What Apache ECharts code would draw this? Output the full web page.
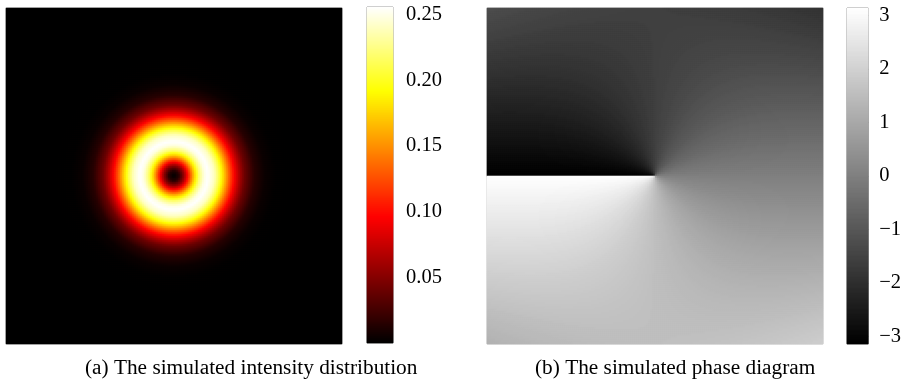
<!DOCTYPE html>
<html>
<head>
<meta charset="utf-8">
<script src="https://cdn.jsdelivr.net/npm/echarts@6/dist/echarts.min.js"></script>
<style>
  html, body { margin: 0; padding: 0; background: #fff; }
  #chart { width: 904px; height: 381px; }
</style>
</head>
<body>
<div id="chart"></div>
<script>
/* Data */
// donut intensity against radius (radius as a fraction of half the image width)
const ringRadius = [0, 0.03, 0.06, 0.09, 0.12, 0.15, 0.18, 0.203, 0.24, 0.27, 0.30, 0.33, 0.36, 0.39, 0.42, 0.48, 0.54, 0.60, 0.72, 1.5];
const ringIntensity = [0, 0.0147, 0.0555, 0.1125, 0.1710, 0.2195, 0.2487, 0.2558, 0.2406, 0.2101, 0.1710, 0.1306, 0.0945, 0.0650, 0.0412, 0.0147, 0.0042, 0.0010, 0, 0];
const intensityRange = [0, 0.2558];
const intensityTicks = [0.05, 0.10, 0.15, 0.20, 0.25];

// phase against angle round the centre (degrees, clockwise from the right)
const phaseAngle = [-180, -135, -90, -45, 0, 45, 90, 135, 180];
const phaseValue = [-3.1416, -2.3562, -1.5708, -0.7854, 0, 0.7854, 1.5708, 2.3562, 3.1416];
// extra phase seen at the four corners (top-left, top-right / bottom-left, bottom-right)
const phaseCornerShift = [[1.13, -1.13], [-1.13, 1.13]];
const phaseRange = [-3.1416, 3.1416];
const phaseTicks = [-3, -2, -1, 0, 1, 2, 3];

const captions = ['(a) The simulated intensity distribution', '(b) The simulated phase diagram'];

// MATLAB "hot" and "gray"
const hotColors = ['#000000', '#550000', '#aa0000', '#ff0000', '#ff5500', '#ffaa00', '#ffff00', '#ffff80', '#ffffff'];
const grayColors = ['#000000', '#ffffff'];

const N = 168;      // cells per side of each picture
const BAR = 336;    // steps in each colour bar

function lookup(xs, ys, x) {
    if (x <= xs[0]) return ys[0];
    for (let k = 1; k < xs.length; k++) {
        if (x <= xs[k]) {
            const t = (x - xs[k - 1]) / (xs[k] - xs[k - 1]);
            return ys[k - 1] + t * (ys[k] - ys[k - 1]);
        }
    }
    return ys[ys.length - 1];
}

// bilinear blend of the corner table, s and t in 0..1
function corners(tab, s, t) {
    const top = tab[0][0] * (1 - s) + tab[0][1] * s;
    const bot = tab[1][0] * (1 - s) + tab[1][1] * s;
    return top * (1 - t) + bot * t;
}

const cells = [];
for (let i = 0; i < N; i++) cells.push(i);
const barRows = [];
for (let i = 0; i < BAR; i++) barRows.push(i);

const intensityData = [];
const phaseData = [];
for (let j = 0; j < N; j++) {
    for (let i = 0; i < N; i++) {
        const s = (i + 0.5) / N, t = (j + 0.5) / N;
        const u = s * 2 - 1, v = t * 2 - 1;
        const rho = Math.sqrt(u * u + v * v);
        intensityData.push([i, j, lookup(ringRadius, ringIntensity, rho)]);
        const ang = Math.atan2(v, u) * 180 / Math.PI;
        phaseData.push([i, j, lookup(phaseAngle, phaseValue, ang) + corners(phaseCornerShift, s, t)]);
    }
}

function barData(range) {
    const out = [];
    for (let k = 0; k < BAR; k++) {
        out.push([0, k, range[0] + (k + 0.5) / BAR * (range[1] - range[0])]);
    }
    return out;
}

const serif = "'Liberation Serif', 'Times New Roman', serif";
const labelStyle = { fontFamily: serif, fontSize: 20.5, color: '#000' };
const captionStyle = { fontFamily: serif, fontSize: 21.3, fontWeight: 'normal', color: '#000' };

function hiddenCat(grid, data, inverse) {
    return { gridIndex: grid, type: 'category', data: data, show: false, inverse: !!inverse };
}

function barAxis(grid, range, ticks, margin, fmt) {
    return {
        gridIndex: grid,
        type: 'value',
        position: 'right',
        min: range[0],
        max: range[1],
        axisLine: { show: false },
        splitLine: { show: false },
        axisTick: { show: true, inside: true, length: 3, customValues: ticks, lineStyle: { color: '#555', width: 1 } },
        axisLabel: Object.assign({ margin: margin, customValues: ticks, formatter: fmt }, labelStyle)
    };
}

let chartDom = document.getElementById('chart');
let myChart = echarts.init(chartDom, null, { renderer: 'canvas' });

let option = {
    animation: false,
    backgroundColor: '#fff',
    title: [
        { text: captions[0], left: 85, top: 358, padding: 0, textStyle: captionStyle },
        { text: captions[1], left: 535, top: 358, padding: 0, textStyle: captionStyle }
    ],
    grid: [
        { left: 6, top: 8, width: 336, height: 336, show: true, borderColor: '#c8c8c8', borderWidth: 1, backgroundColor: '#000' },
        { left: 367, top: 7, width: 26, height: 336, show: true, borderColor: '#808080', borderWidth: 1 },
        { left: 487, top: 8, width: 336, height: 336, show: true, borderColor: '#c8c8c8', borderWidth: 1 },
        { left: 847, top: 8, width: 25, height: 336, show: true, borderColor: '#808080', borderWidth: 1 }
    ],
    xAxis: [
        hiddenCat(0, cells),
        hiddenCat(1, ['c']),
        hiddenCat(2, cells),
        hiddenCat(3, ['c'])
    ],
    yAxis: [
        hiddenCat(0, cells, true),
        hiddenCat(1, barRows),
        barAxis(1, intensityRange, intensityTicks, 13, v => v.toFixed(2)),
        hiddenCat(2, cells, true),
        hiddenCat(3, barRows),
        barAxis(3, phaseRange, phaseTicks, 11, v => (v < 0 ? '\u2212' + (-v) : String(v)))
    ],
    visualMap: [
        { type: 'continuous', show: false, min: intensityRange[0], max: intensityRange[1], seriesIndex: [0, 1], inRange: { color: hotColors } },
        { type: 'continuous', show: false, min: phaseRange[0], max: phaseRange[1], seriesIndex: [2, 3], inRange: { color: grayColors } }
    ],
    series: [
        { type: 'heatmap', xAxisIndex: 0, yAxisIndex: 0, data: intensityData, progressive: 0, emphasis: { disabled: true } },
        { type: 'heatmap', xAxisIndex: 1, yAxisIndex: 1, data: barData(intensityRange), progressive: 0, emphasis: { disabled: true } },
        { type: 'heatmap', xAxisIndex: 2, yAxisIndex: 3, data: phaseData, progressive: 0, emphasis: { disabled: true } },
        { type: 'heatmap', xAxisIndex: 3, yAxisIndex: 4, data: barData(phaseRange), progressive: 0, emphasis: { disabled: true } }
    ]
};

option && myChart.setOption(option);

window.addEventListener('resize', () => {
    myChart.resize();
});
</script>
</body>
</html>
